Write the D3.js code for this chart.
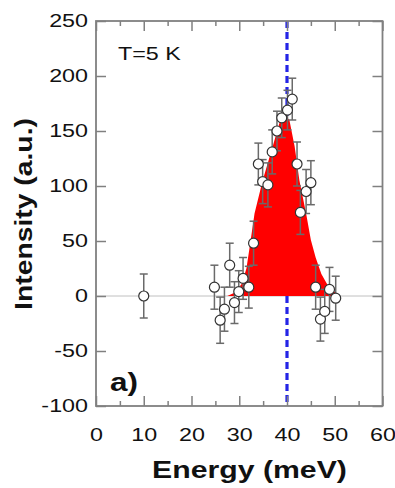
<!DOCTYPE html>
<html>
<head>
<meta charset="utf-8">
<script src="https://cdn.jsdelivr.net/npm/d3@7"></script>
<style>
  body { margin: 0; background: #fff; }
  svg { display: block; }
  text { font-family: "Liberation Sans", Arial, Helvetica, sans-serif; fill: #111; }
</style>
</head>
<body>
<div id="chart"></div>
<script>
// measured points (energy in meV, intensity in a.u., error bar half-height)
const energy    = [10, 24.8, 26.0, 26.9, 28.0, 29.0, 29.9, 30.8, 32.0, 33.0, 34.0, 34.9, 36.0, 36.9,
                   37.9, 38.9, 40.1, 41.1, 42.1, 42.8, 44.0, 45.0, 46.0, 47.0, 47.9, 48.9, 50.2];
const intensity = [0, 8, -22, -12, 28, -6, 4, 16, 8, 48, 120, 104, 101, 131,
                   150, 162, 169, 179, 120, 76, 95, 103, 8, -21, -14, 6, -2];
const errors    = [20, 20, 21, 20, 20, 19, 19, 19, 19, 20, 19, 20, 20, 20,
                   18, 18, 18, 19, 20, 20, 20, 20, 20, 20, 20, 20, 20];

// red peak outline
const peakE = [27.5, 29, 30.5, 31.5, 32.2, 33.2, 34.9, 37, 38.4, 39.3, 40.5, 41.6, 42.6, 44, 45, 46, 47.2, 48.5, 49.6, 51];
const peakI = [0, 3, 11, 25, 45, 75, 105, 136, 157, 166, 160, 136, 105, 75, 51, 35, 20, 10, 5, 0];

const xTicks = [0, 10, 20, 30, 40, 50, 60];
const xMinor = [5, 15, 25, 35, 45, 55];
const yTicks = [-100, -50, 0, 50, 100, 150, 200, 250];
const peakCenter = 40;

const W = 395, H = 488;
const pLeft = 96, pRight = 382.5, pTop = 21, pBottom = 406;
const SX = 1.26; // wide lettering of the original

const svg = d3.select("#chart").append("svg").attr("width", W).attr("height", H);

const x = d3.scaleLinear().domain([0, 60]).range([pLeft, pRight]);
const y = d3.scaleLinear().domain([-100, 250]).range([pBottom, pTop]);

const axisColor = "#808080";
const plain = d => String(d); // keep ascii hyphen for negatives

// zero line
svg.append("line")
  .attr("x1", pLeft).attr("x2", pRight)
  .attr("y1", y(0)).attr("y2", y(0))
  .attr("stroke", "#c0c0c0").attr("stroke-width", 1);

// dashed marker
svg.append("line")
  .attr("x1", x(peakCenter)).attr("x2", x(peakCenter))
  .attr("y1", pTop).attr("y2", pBottom)
  .attr("stroke", "#2424e6").attr("stroke-width", 3.2)
  .attr("stroke-dasharray", "7,4");

// red peak
const area = d3.area()
  .x((d, i) => x(peakE[i]))
  .y0(y(0))
  .y1((d, i) => y(peakI[i]));
svg.append("path")
  .datum(peakE)
  .attr("d", area)
  .attr("fill", "#ff0000");

// axes (ticks pointing inwards)
function styleAxis(g) {
  g.select(".domain").remove();
  g.selectAll(".tick line").attr("stroke", axisColor).attr("stroke-width", 1.5);
}

svg.append("g").attr("transform", "translate(0," + pBottom + ")")
  .call(d3.axisBottom(x).tickValues(xTicks).tickFormat(plain).tickSizeInner(-10).tickSizeOuter(0).tickPadding(22))
  .call(styleAxis)
  .call(g => g.selectAll("text").attr("font-size", 18.5).attr("transform", "scale(" + SX + ",1)"));
svg.append("g").attr("transform", "translate(0," + pBottom + ")")
  .call(d3.axisBottom(x).tickValues(xMinor).tickSizeInner(-5).tickSizeOuter(0).tickFormat(""))
  .call(styleAxis);
svg.append("g").attr("transform", "translate(0," + pTop + ")")
  .call(d3.axisTop(x).tickValues(xTicks).tickSizeInner(-10).tickSizeOuter(0).tickFormat(""))
  .call(styleAxis);
svg.append("g").attr("transform", "translate(0," + pTop + ")")
  .call(d3.axisTop(x).tickValues(xMinor).tickSizeInner(-5).tickSizeOuter(0).tickFormat(""))
  .call(styleAxis);

svg.append("g").attr("transform", "translate(" + pLeft + ",0)")
  .call(d3.axisLeft(y).tickValues(yTicks).tickFormat(plain).tickSizeInner(-10).tickSizeOuter(0))
  .call(styleAxis)
  .call(g => g.selectAll("text")
    .attr("font-size", 18.5)
    .attr("x", 0)
    .attr("transform", "translate(-8,0) scale(" + SX + ",1)"));
svg.append("g").attr("transform", "translate(" + pRight + ",0)")
  .call(d3.axisRight(y).tickValues(yTicks).tickSizeInner(-10).tickSizeOuter(0).tickFormat(""))
  .call(styleAxis);

// frame
svg.append("rect")
  .attr("x", pLeft).attr("y", pTop)
  .attr("width", pRight - pLeft).attr("height", pBottom - pTop)
  .attr("fill", "none").attr("stroke", axisColor).attr("stroke-width", 1.8);

// error bars
const pts = energy.map((e, i) => ({ e: e, v: intensity[i], err: errors[i] }));
const bars = svg.append("g").attr("stroke", "#6a6a6a").attr("stroke-width", 1.5);
pts.forEach(d => {
  const cx = x(d.e);
  bars.append("line").attr("x1", cx).attr("x2", cx).attr("y1", y(d.v + d.err)).attr("y2", y(d.v - d.err));
  bars.append("line").attr("x1", cx - 4).attr("x2", cx + 4).attr("y1", y(d.v + d.err)).attr("y2", y(d.v + d.err));
  bars.append("line").attr("x1", cx - 4).attr("x2", cx + 4).attr("y1", y(d.v - d.err)).attr("y2", y(d.v - d.err));
});

// points
svg.append("g").selectAll("circle")
  .data(pts)
  .enter()
  .append("circle")
  .attr("cx", d => x(d.e))
  .attr("cy", d => y(d.v))
  .attr("r", 5)
  .attr("fill", "#fff")
  .attr("stroke", "#333")
  .attr("stroke-width", 1.2);

// labels
function label(tx, ty, str, size, weight, anchor, rot, sx) {
  svg.append("text")
    .attr("transform", "translate(" + tx + "," + ty + ") rotate(" + (rot || 0) + ") scale(" + (sx || SX) + ",1)")
    .attr("font-size", size)
    .attr("font-weight", weight)
    .attr("text-anchor", anchor)
    .text(str);
}
label(118, 60, "T=5 K", 18.5, "normal", "start");
label(110, 391, "a)", 25, "bold", "start");
label(249.5, 478, "Energy (meV)", 24, "bold", "middle");
label(31.5, 214, "Intensity (a.u.)", 24, "bold", "middle", -90, 1.18);
</script>
</body>
</html>
